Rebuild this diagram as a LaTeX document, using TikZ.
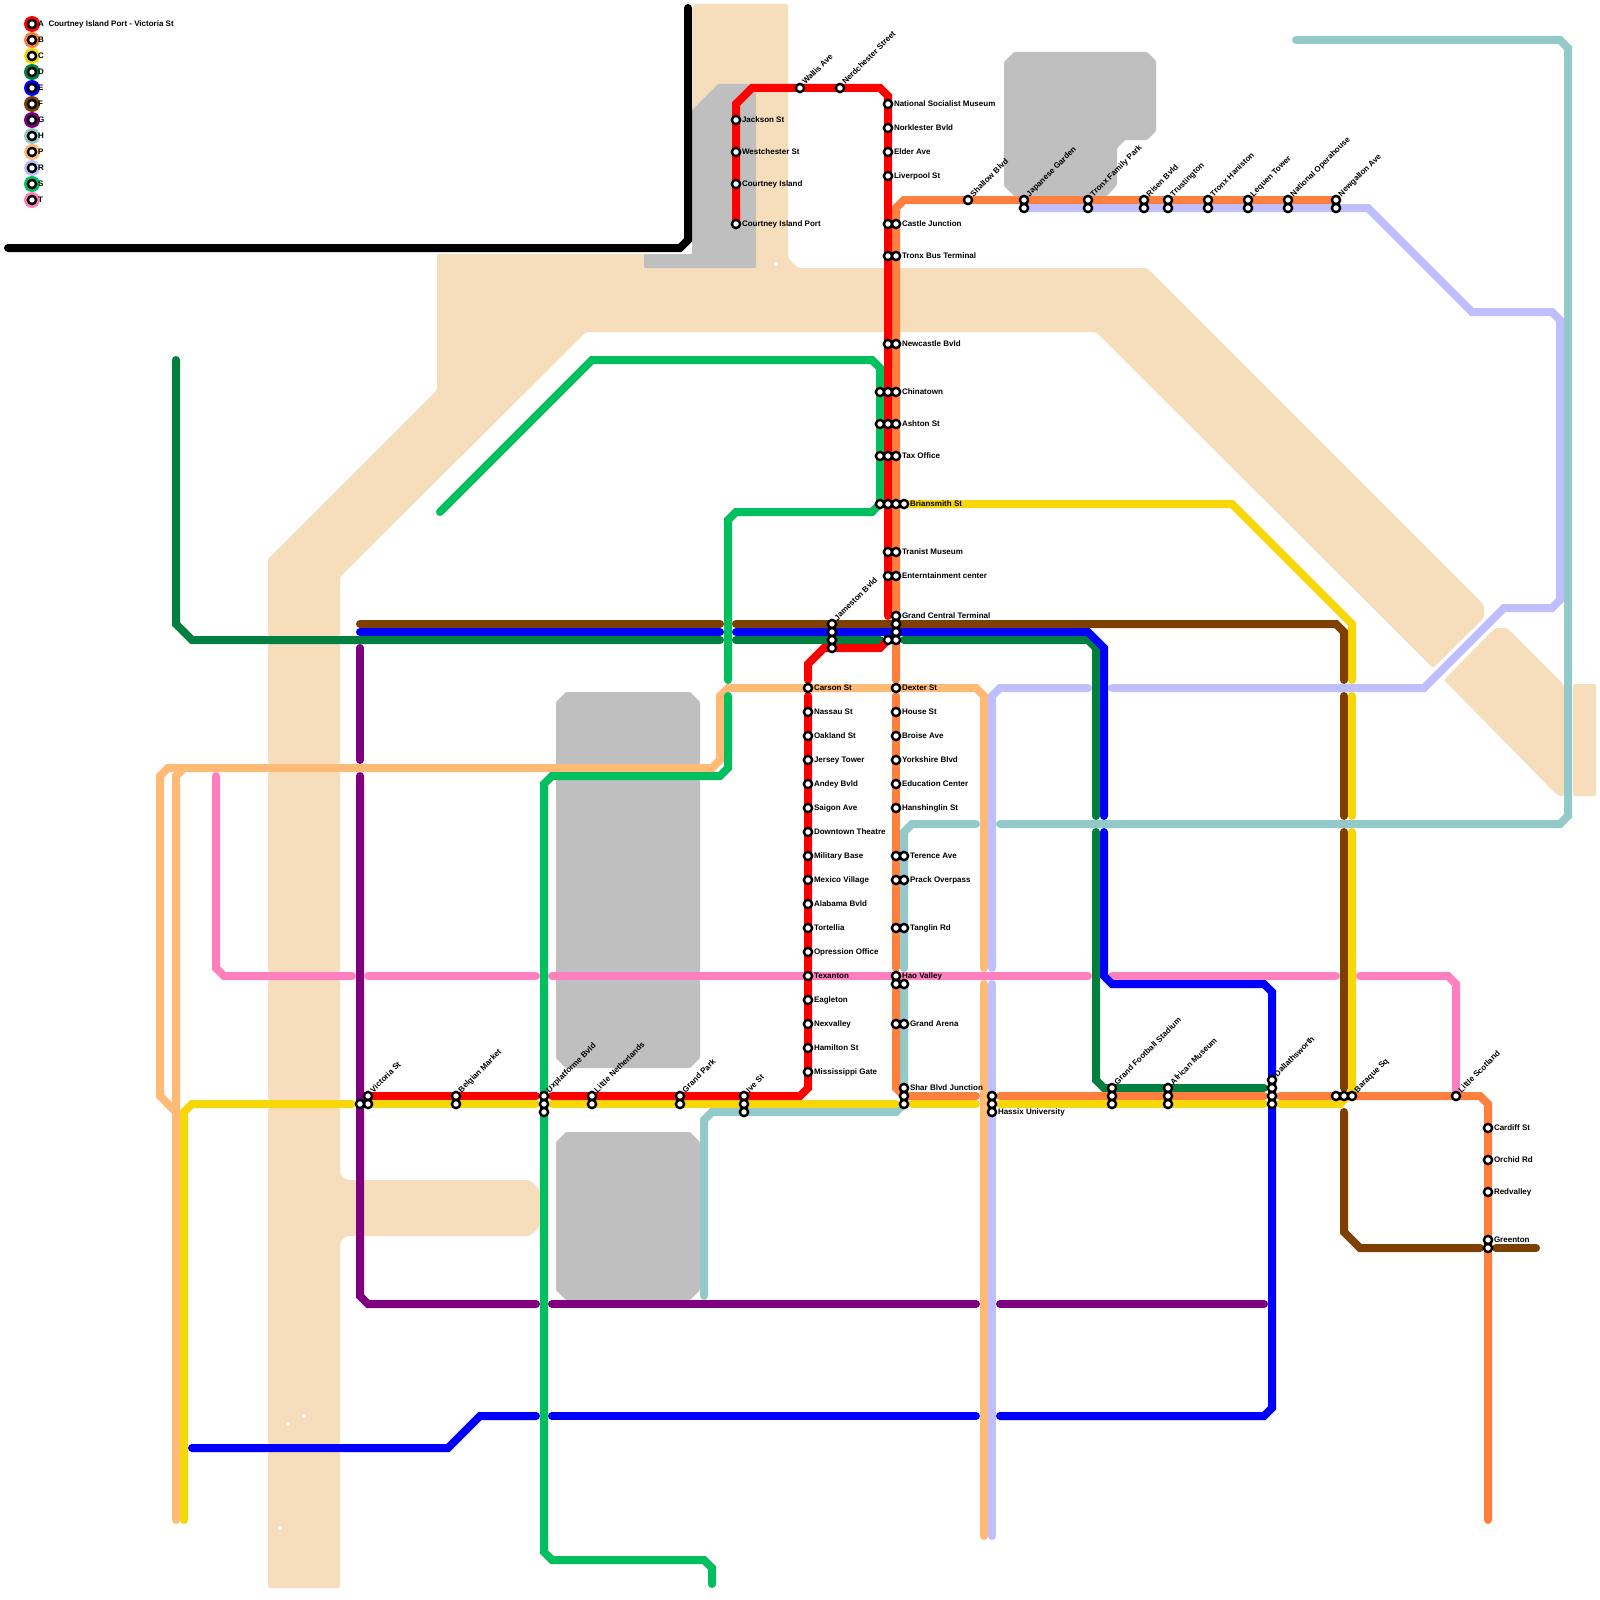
\documentclass[tikz,border=0pt]{standalone}
\usepackage{fontspec}
\setmainfont{Liberation Sans}
\definecolor{colA}{HTML}{FF0000}
\definecolor{colB}{HTML}{FF7F3F}
\definecolor{colC}{HTML}{F7D708}
\definecolor{colD}{HTML}{007F3F}
\definecolor{colE}{HTML}{0000FF}
\definecolor{colF}{HTML}{7F3F00}
\definecolor{colG}{HTML}{7F007F}
\definecolor{colH}{HTML}{94C9C9}
\definecolor{colP}{HTML}{FFBA75}
\definecolor{colR}{HTML}{BFBFFF}
\definecolor{colS}{HTML}{00BF5F}
\definecolor{colT}{HTML}{FF7FBF}
\definecolor{water}{HTML}{F6DDBB}
\definecolor{land}{HTML}{BFBFBF}
\tikzset{
  ln/.style={line width=8pt,line cap=round,line join=miter,miter limit=4},
  wat/.style={fill=water,draw=none,rounded corners=2pt},
  grayblk/.style={fill=land,draw=none,rounded corners=1pt},
  stn/.style={circle,draw=black,line width=2.4pt,fill=white,minimum size=8.2pt,inner sep=0pt,outer sep=0pt},
  lbl/.style={font=\bfseries\fontsize{8}{8}\selectfont,text=black,inner sep=0pt,outer sep=0pt,anchor=base west},
  lbld/.style={lbl,rotate=45},
  legdisc/.style={circle,minimum size=16pt,inner sep=0pt,outer sep=0pt,draw=none}
}
% station dots only
\newcommand{\stnpts}[1]{\foreach \px/\py in {#1} {\node[stn] (s\px-\py) at (\px,\py) {};}}
% horizontal label
\newcommand{\hlab}[3]{\node[lbl] (l#1-#2) at ({#1+6},{#2+2.5}) {#3};}
% diagonal label
\newcommand{\dlab}[3]{\node[lbld] (l#1-#2) at ({#1+5.5},{#2-3}) {#3};}
\begin{document}
\begin{tikzpicture}[x=1pt,y=-1pt]
\useasboundingbox (0,0) rectangle (1600,1600);
\fill[white] (0,0) rectangle (1600,1600);

% water
\fill[wat] (268,636) -- (268,559) -- (437,390) -- (437,254) -- (693,254) -- (693,4) -- (788,4) -- (788,258) -- (798,268) -- (884,268) -- (884,332) -- (586,332) -- (340,577) -- (340,636) -- cycle;
\fill[wat] (900,268) -- (1147,268) -- (1484,605) -- (1484,618) -- (1433,668) -- (1096,332) -- (900,332) -- cycle;
\fill[wat] (1444,680) -- (1495,628) -- (1507,628) -- (1564,685) -- (1564,796) -- (1558,796) -- cycle;
\fill[wat] (1573,684) rectangle (1596,796);
\fill[wat] (268,644) rectangle (340,764);
\fill[wat] (268,772) rectangle (340,972);
\fill[wat] (268,980) rectangle (340,1100);
\fill[wat] (268,1108) -- (340,1108) -- (340,1174) -- (346,1180) -- (356,1180) -- (356,1236) -- (346,1236) -- (340,1242) -- (340,1444) -- (268,1444) -- cycle;
\fill[wat] (268,1452) rectangle (340,1588);
\fill[wat] (364,1180) -- (530,1180) -- (540,1190) -- (540,1226) -- (530,1236) -- (364,1236) -- cycle;
\fill[white] (776,264) circle (2);
\fill[white] (288,1424) circle (2);
\fill[white] (304,1416) circle (2);
\fill[white] (280,1528) circle (2);

% land
\fill[grayblk] (718,84) -- (748,84) -- (756,92) -- (756,268) -- (644,268) -- (644,254) -- (692,254) -- (692,110) -- cycle;
\fill[grayblk] (1014,52) -- (1147,52) -- (1156,61) -- (1156,131) -- (1147,140) -- (1125,140) -- (1117,148) -- (1117,185) -- (1107,196) -- (1014,196) -- (1004,186) -- (1004,62) -- cycle;
\fill[grayblk] (566,692) -- (690,692) -- (700,702) -- (700,764) -- (556,764) -- (556,702) -- cycle;
\fill[grayblk] (556,780) rectangle (700,972);
\fill[grayblk] (556,980) -- (700,980) -- (700,1058) -- (690,1068) -- (566,1068) -- (556,1058) -- cycle;
\fill[grayblk] (566,1132) -- (690,1132) -- (700,1142) -- (700,1290) -- (690,1300) -- (566,1300) -- (556,1290) -- (556,1142) -- cycle;

% black
\draw[ln,black] (8,248) -- (680,248) -- (688,240) -- (688,8);

% G purple
\draw[ln,colG] (360,648) -- (360,760);
\draw[ln,colG] (360,776) -- (360,1296) -- (368,1304) -- (536,1304);
\draw[ln,colG] (552,1304) -- (976,1304);
\draw[ln,colG] (1000,1304) -- (1264,1304);

% T pink
\draw[ln,colT] (216,776) -- (216,968) -- (224,976) -- (352,976);
\draw[ln,colT] (368,976) -- (536,976);
\draw[ln,colT] (552,976) -- (1088,976);
\draw[ln,colT] (1112,976) -- (1336,976);
\draw[ln,colT] (1360,976) -- (1448,976) -- (1456,984) -- (1456,1096);

% P peach
\draw[ln,colP] (176,1520) -- (176,776) -- (184,768);
\draw[ln,colP] (176,1112) -- (160,1096) -- (160,776) -- (168,768) -- (712,768) -- (720,760) -- (720,696) -- (728,688) -- (976,688) -- (984,696) -- (984,968);
\draw[ln,colP] (984,984) -- (984,1536);

% R lavender
\draw[ln,colR] (1024,208) -- (1368,208) -- (1472,312) -- (1552,312) -- (1560,320) -- (1560,600) -- (1552,608) -- (1504,608) -- (1424,688) -- (1112,688);
\draw[ln,colR] (1088,688) -- (1000,688) -- (992,696) -- (992,968);
\draw[ln,colR] (992,984) -- (992,1536);

% H teal
\draw[ln,colH] (1296,40) -- (1560,40) -- (1568,48) -- (1568,816) -- (1560,824) -- (1000,824);
\draw[ln,colH] (976,824) -- (912,824) -- (904,832) -- (904,968);
\draw[ln,colH] (904,984) -- (904,1104) -- (896,1112) -- (712,1112) -- (704,1120) -- (704,1296);

% C yellow
\draw[ln,colC] (184,1520) -- (184,1112) -- (192,1104) -- (352,1104);
\draw[ln,colC] (368,1104) -- (536,1104);
\draw[ln,colC] (552,1104) -- (896,1104);
\draw[ln,colC] (912,1104) -- (976,1104);
\draw[ln,colC] (1000,1104) -- (1264,1104);
\draw[ln,colC] (1280,1104) -- (1340,1104) -- (1352,1092) -- (1352,832);
\draw[ln,colC] (1352,816) -- (1352,696);
\draw[ln,colC] (1352,680) -- (1352,624) -- (1232,504) -- (904,504);

% D dark green
\draw[ln,colD] (176,360) -- (176,624) -- (192,640) -- (720,640);
\draw[ln,colD] (736,640) -- (880,640);
\draw[ln,colD] (904,640) -- (1088,640) -- (1096,648) -- (1096,816);
\draw[ln,colD] (1096,832) -- (1096,1080) -- (1104,1088) -- (1264,1088);

% B orange
\draw[ln,colB] (1336,200) -- (904,200) -- (896,208) -- (896,680);
\draw[ln,colB] (896,696) -- (896,968);
\draw[ln,colB] (896,984) -- (896,1088) -- (904,1096) -- (976,1096);
\draw[ln,colB] (1000,1096) -- (1264,1096);
\draw[ln,colB] (1280,1096) -- (1480,1096) -- (1488,1104) -- (1488,1520);

% E blue
\draw[ln,colE] (360,632) -- (720,632);
\draw[ln,colE] (736,632) -- (1088,632) -- (1104,648) -- (1104,816);
\draw[ln,colE] (1104,832) -- (1104,976) -- (1112,984) -- (1264,984) -- (1272,992) -- (1272,1408) -- (1264,1416) -- (1000,1416);
\draw[ln,colE] (976,1416) -- (552,1416);
\draw[ln,colE] (536,1416) -- (480,1416) -- (448,1448) -- (192,1448);

% F brown
\draw[ln,colF] (360,624) -- (720,624);
\draw[ln,colF] (736,624) -- (1336,624) -- (1344,632) -- (1344,680);
\draw[ln,colF] (1344,696) -- (1344,816);
\draw[ln,colF] (1344,832) -- (1344,1088);
\draw[ln,colF] (1344,1112) -- (1344,1232) -- (1360,1248) -- (1480,1248);
\draw[ln,colF] (1496,1248) -- (1536,1248);

% S green
\draw[ln,colS] (440,512) -- (592,360) -- (872,360) -- (880,368) -- (880,504) -- (872,512) -- (736,512) -- (728,520) -- (728,680);
\draw[ln,colS] (728,696) -- (728,768) -- (720,776) -- (552,776) -- (544,784) -- (544,1552) -- (552,1560) -- (704,1560) -- (712,1568) -- (712,1584);

% A red
\draw[ln,colA] (736,224) -- (736,104) -- (752,88) -- (880,88) -- (888,96) -- (888,616);
\draw[ln,colA] (888,640) -- (880,648) -- (824,648) -- (808,664) -- (808,680);
\draw[ln,colA] (808,696) -- (808,1088) -- (800,1096) -- (552,1096);
\draw[ln,colA] (536,1096) -- (368,1096);

% legend
\foreach \c/\y in {A/24,B/40,C/56,D/72,E/88,F/104,G/120,H/136,P/152,R/168,S/184,T/200} {
  \node[legdisc,fill=col\c] (d\c) at (32,\y) {};
  \node[stn] (s\c) at (32,\y) {};
  \node[lbl] (t\c) at (38,{\y+2.5}) {\c};
}
\node[lbl] (title) at (48.5,26.5) {Courtney Island Port - Victoria St};

% stations
\stnpts{736/120,736/152,736/184,736/224,800/88,840/88,888/104,888/128,888/152,888/176,
888/224,896/224,888/256,896/256,888/344,896/344,
880/392,888/392,896/392,880/424,888/424,896/424,880/456,888/456,896/456,
880/504,888/504,896/504,904/504,888/552,896/552,888/576,896/576,
896/616,896/624,896/632,896/640,888/640,832/624,832/632,832/640,832/648,
968/200,1024/200,1024/208,1088/200,1088/208,1144/200,1144/208,1168/200,1168/208,1208/200,1208/208,
1248/200,1248/208,1288/200,1288/208,1336/200,1336/208,
808/688,808/712,808/736,808/760,808/784,808/808,808/832,808/856,808/880,808/904,808/928,808/952,808/976,808/1000,808/1024,808/1048,808/1072,
896/688,896/712,896/736,896/760,896/784,896/808,896/856,904/856,896/880,904/880,896/928,904/928,
896/976,896/984,904/984,896/1024,904/1024,904/1088,904/1096,904/1104,
992/1096,992/1104,992/1112,1112/1088,1112/1096,1112/1104,1168/1088,1168/1096,1168/1104,
1272/1080,1272/1088,1272/1096,1272/1104,1336/1096,1344/1096,1352/1096,1456/1096,
1488/1128,1488/1160,1488/1192,1488/1240,1488/1248,
368/1096,368/1104,360/1104,456/1096,456/1104,544/1096,544/1104,544/1112,592/1096,592/1104,680/1096,680/1104,744/1096,744/1104,744/1112}

% labels
\hlab{736}{120}{Jackson St}
\hlab{736}{152}{Westchester St}
\hlab{736}{184}{Courtney Island}
\hlab{736}{224}{Courtney Island Port}
\dlab{800}{88}{Wallis Ave}
\dlab{840}{88}{Nerdchester Street}
\hlab{888}{104}{National Socialist Museum}
\hlab{888}{128}{Norklester Bvld}
\hlab{888}{152}{Elder Ave}
\hlab{888}{176}{Liverpool St}
\hlab{896}{224}{Castle Junction}
\hlab{896}{256}{Tronx Bus Terminal}
\hlab{896}{344}{Newcastle Bvld}
\hlab{896}{392}{Chinatown}
\hlab{896}{424}{Ashton St}
\hlab{896}{456}{Tax Office}
\hlab{904}{504}{Briansmith St}
\hlab{896}{552}{Tranist Museum}
\hlab{896}{576}{Enterntainment center}
\hlab{896}{616}{Grand Central Terminal}
\dlab{832}{624}{Jameston Bvld}
\dlab{968}{200}{Shallow Blvd}
\dlab{1024}{200}{Japanese Garden}
\dlab{1088}{200}{Tronx Family Park}
\dlab{1144}{200}{Risen Bvld}
\dlab{1168}{200}{Trustington}
\dlab{1208}{200}{Tronx Haniston}
\dlab{1248}{200}{Lequen Tower}
\dlab{1288}{200}{National Operahouse}
\dlab{1336}{200}{Newgallon Ave}
\hlab{808}{688}{Carson St}
\hlab{808}{712}{Nassau St}
\hlab{808}{736}{Oakland St}
\hlab{808}{760}{Jersey Tower}
\hlab{808}{784}{Andey Bvld}
\hlab{808}{808}{Saigon Ave}
\hlab{808}{832}{Downtown Theatre}
\hlab{808}{856}{Military Base}
\hlab{808}{880}{Mexico Village}
\hlab{808}{904}{Alabama Bvld}
\hlab{808}{928}{Tortellia}
\hlab{808}{952}{Opression Office}
\hlab{808}{976}{Texanton}
\hlab{808}{1000}{Eagleton}
\hlab{808}{1024}{Nexvalley}
\hlab{808}{1048}{Hamilton St}
\hlab{808}{1072}{Mississippi Gate}
\hlab{896}{688}{Dexter St}
\hlab{896}{712}{House St}
\hlab{896}{736}{Broise Ave}
\hlab{896}{760}{Yorkshire Blvd}
\hlab{896}{784}{Education Center}
\hlab{896}{808}{Hanshinglin St}
\hlab{904}{856}{Terence Ave}
\hlab{904}{880}{Prack Overpass}
\hlab{904}{928}{Tanglin Rd}
\hlab{896}{976}{Hao Valley}
\hlab{904}{1024}{Grand Arena}
\hlab{904}{1088}{Shar Blvd Junction}
\hlab{992}{1112}{Hassix University}
\dlab{1112}{1088}{Grand Football Stadium}
\dlab{1168}{1088}{African Museum}
\dlab{1272}{1080}{Dallathsworth}
\dlab{1352}{1096}{Baraque Sq}
\dlab{1456}{1096}{Little Scotland}
\hlab{1488}{1128}{Cardiff St}
\hlab{1488}{1160}{Orchid Rd}
\hlab{1488}{1192}{Redvalley}
\hlab{1488}{1240}{Greenton}
\dlab{368}{1096}{Victoria St}
\dlab{456}{1096}{Belgian Market}
\dlab{544}{1096}{Uxplatforme Bvld}
\dlab{592}{1096}{Little Netherlands}
\dlab{680}{1096}{Grand Park}
\dlab{744}{1096}{Ive St}
\end{tikzpicture}
\end{document}
